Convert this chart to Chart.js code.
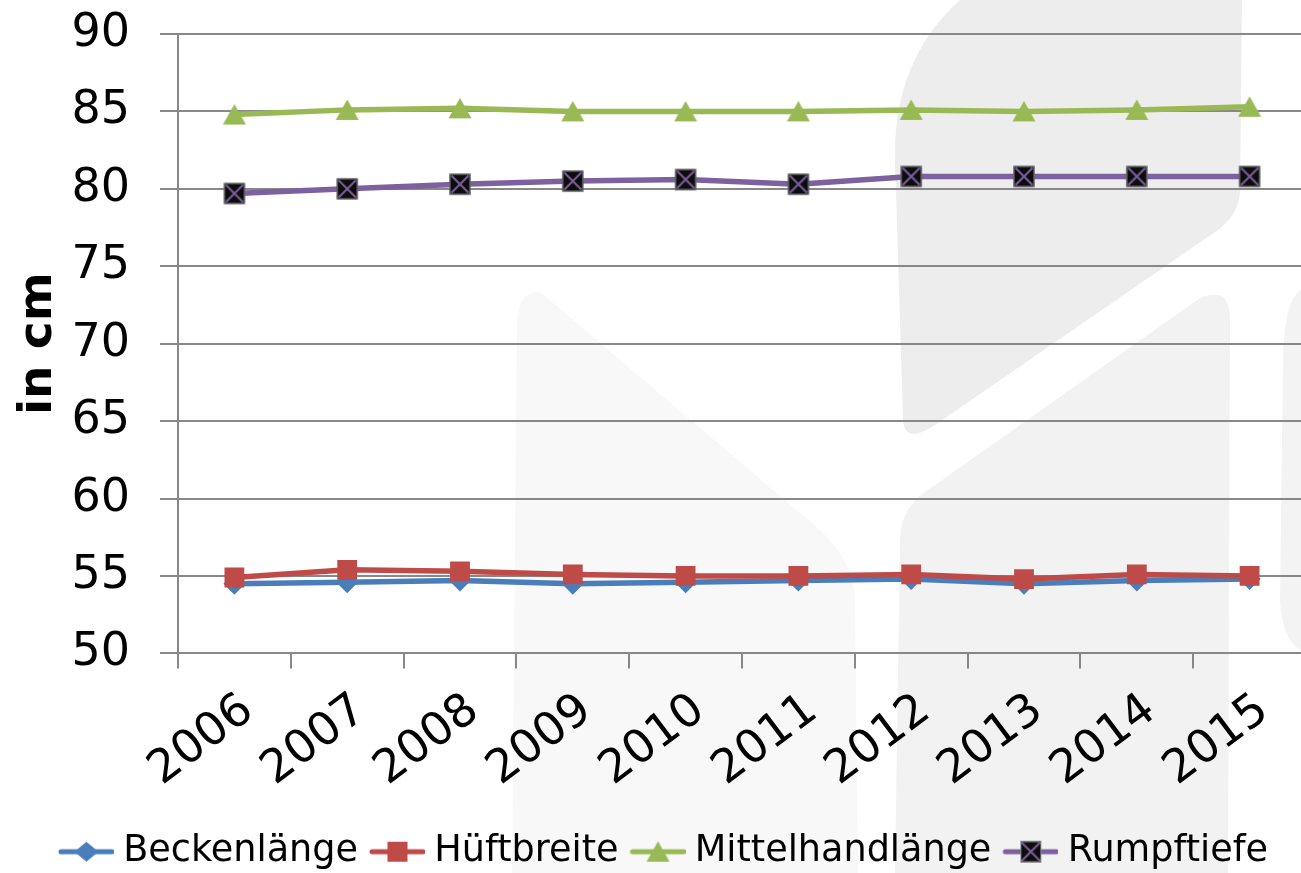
<!DOCTYPE html>
<html><head><meta charset="utf-8">
<script src="https://cdn.jsdelivr.net/npm/chart.js@4.4.1/dist/chart.umd.min.js"></script>
<style>
html,body{margin:0;padding:0;background:#fff;overflow:hidden;}
#wrap{position:relative;width:1320px;height:873px;}
</style>
</head><body>
<div id="wrap"><canvas id="c"></canvas></div>
<script>
// ---- data ----
const years = ['2006','2007','2008','2009','2010','2011','2012','2013','2014','2015'];
const beckenlaenge     = [54.5, 54.6, 54.7, 54.5, 54.6, 54.7, 54.8, 54.5, 54.7, 54.8];
const hueftbreite      = [54.9, 55.4, 55.3, 55.1, 55.0, 55.0, 55.1, 54.8, 55.1, 55.0];
const mittelhandlaenge = [84.8, 85.1, 85.2, 85.0, 85.0, 85.0, 85.1, 85.0, 85.1, 85.3];
const rumpftiefe       = [79.7, 80.0, 80.3, 80.5, 80.6, 80.3, 80.8, 80.8, 80.8, 80.8];
const seriesNames = ['Beckenlänge','Hüftbreite','Mittelhandlänge','Rumpftiefe'];
const yTitle = 'in cm';

const FONT = "'DejaVu Sans', Verdana, sans-serif";
const COLORS = ['#4A7EBB','#BE4B48','#98B954','#7D60A0'];

function drawMarker(ctx, kind, cx, cy, color){
  ctx.save();
  if (kind === 'diamond'){
    ctx.fillStyle = color; ctx.beginPath();
    ctx.moveTo(cx, cy-10); ctx.lineTo(cx+12, cy); ctx.lineTo(cx, cy+10); ctx.lineTo(cx-12, cy); ctx.closePath(); ctx.fill();
  } else if (kind === 'square'){
    ctx.fillStyle = color; ctx.fillRect(cx-10, cy-10, 20, 20);
  } else if (kind === 'triangle'){
    ctx.fillStyle = color; ctx.beginPath();
    ctx.moveTo(cx, cy-10.5); ctx.lineTo(cx+11.5, cy+10); ctx.lineTo(cx-11.5, cy+10); ctx.closePath(); ctx.fill();
  } else if (kind === 'xbox'){
    ctx.fillStyle = '#0d0d0d'; ctx.fillRect(cx-10.5, cy-10.5, 21, 21);
    ctx.strokeStyle = '#8a8a8a'; ctx.lineWidth = 1; ctx.strokeRect(cx-10, cy-10, 20, 20);
    ctx.strokeStyle = color; ctx.lineWidth = 2; ctx.beginPath();
    ctx.moveTo(cx-8.5, cy-8.5); ctx.lineTo(cx+8.5, cy+8.5); ctx.moveTo(cx+8.5, cy-8.5); ctx.lineTo(cx-8.5, cy+8.5); ctx.stroke();
  }
  ctx.restore();
}
function markerImage(kind, color){
  const c = document.createElement('canvas'); c.width = 24; c.height = 24;
  drawMarker(c.getContext('2d'), kind, 12, 12, color);
  return c;
}
// legend symbol: transparent left margin so that the visible line+marker sits right before the text
function legendImage(kind, color){
  const c = document.createElement('canvas'); c.width = 73; c.height = 30;
  const g = c.getContext('2d');
  g.strokeStyle = color; g.lineWidth = 5; g.lineCap = 'round';
  g.beginPath(); g.moveTo(20, 15); g.lineTo(71, 15); g.stroke();
  drawMarker(g, kind, 45.5, 15, color);
  return c;
}
const kinds = ['diamond','square','triangle','xbox'];
const legendImgs = kinds.map((k,i)=>legendImage(k, COLORS[i]));
const triImg = markerImage('triangle', COLORS[2]);
const xboxImg = markerImage('xbox', COLORS[3]);

// faint watermark shapes in the background
const bgPlugin = {
  id:'bg',
  beforeDraw(chart){
    const ctx = chart.ctx; ctx.save();
    ctx.fillStyle = '#fff'; ctx.fillRect(0,0,chart.width,chart.height);
    ctx.fillStyle = '#f8f8f8'; ctx.beginPath();
    ctx.moveTo(540,292); ctx.quadraticCurveTo(520,290,517,320);
    ctx.lineTo(512,873); ctx.lineTo(858,873); ctx.lineTo(855,600);
    ctx.quadraticCurveTo(853,560,820,530); ctx.closePath(); ctx.fill();
    ctx.fillStyle = '#f2f2f2'; ctx.beginPath();
    ctx.moveTo(900,540); ctx.quadraticCurveTo(900,505,935,485);
    ctx.lineTo(1200,298); ctx.quadraticCurveTo(1230,285,1230,320);
    ctx.lineTo(1228,873); ctx.lineTo(895,873); ctx.closePath(); ctx.fill();
    ctx.fillStyle = '#ededed'; ctx.beginPath();
    ctx.moveTo(960,0); ctx.lineTo(1242,0); ctx.lineTo(1240,190);
    ctx.quadraticCurveTo(1240,215,1215,232); ctx.lineTo(935,425);
    ctx.quadraticCurveTo(905,445,903,420); ctx.lineTo(895,160);
    ctx.quadraticCurveTo(893,60,960,0); ctx.closePath(); ctx.fill();
    ctx.fillStyle = '#f3f3f3'; ctx.beginPath();
    ctx.moveTo(1301,290); ctx.quadraticCurveTo(1284,300,1283,360);
    ctx.lineTo(1280,600); ctx.quadraticCurveTo(1282,640,1301,650); ctx.closePath(); ctx.fill();
    ctx.restore();
  }
};

const series = [beckenlaenge, hueftbreite, mittelhandlaenge, rumpftiefe];
const styles = [
  {pointStyle:'rectRot', pointRadius:11},
  {pointStyle:'rect', pointRadius:14},
  {pointStyle:triImg, pointRadius:11},
  {pointStyle:xboxImg, pointRadius:11}
];
const datasets = series.map((d,i)=>({
  label: seriesNames[i], data: d,
  borderColor: COLORS[i], backgroundColor: COLORS[i],
  pointBackgroundColor: COLORS[i], pointBorderColor: COLORS[i], pointBorderWidth: 0,
  borderWidth: 5.5, tension: 0, order: 4 - i,
  pointStyle: styles[i].pointStyle, pointRadius: styles[i].pointRadius, pointHoverRadius: styles[i].pointRadius
}));

new Chart(document.getElementById('c'), {
  type:'line',
  data:{labels: years, datasets},
  plugins:[bgPlugin],
  options:{
    responsive:true, maintainAspectRatio:false, animation:false,
    layout:{padding:{top:0, left:0, right:2, bottom:-7}},
    plugins:{
      tooltip:{enabled:false},
      legend:{
        position:'bottom',
        labels:{
          usePointStyle:true, pointStyleWidth:55, padding:3, color:'#000',
          font:{size:36.6, family:FONT},
          generateLabels(chart){
            return chart.data.datasets.map((ds,i)=>({
              text: ds.label, pointStyle: legendImgs[i], fillStyle: COLORS[i],
              strokeStyle: COLORS[i], lineWidth:0, hidden:false, datasetIndex:i, fontColor:'#000'
            }));
          }
        }
      }
    },
    scales:{
      x:{
        type:'category', offset:true,
        grid:{offset:true, drawOnChartArea:false, drawTicks:true, tickLength:15, color:'#888', lineWidth:2},
        border:{display:true, color:'#888', width:2},
        ticks:{minRotation:37, maxRotation:37, color:'#000', padding:15, labelOffset:14, font:{size:46, family:FONT}},
        afterFit(s){ s.height = 177; }
      },
      y:{
        min:50, max:90,
        ticks:{stepSize:5, color:'#000', padding:30, font:{size:46, family:FONT}},
        grid:{color:'#888', lineWidth:2, tickLength:18, drawTicks:true},
        border:{display:true, color:'#888', width:2},
        title:{display:true, text:yTitle, color:'#000', padding:{top:11,bottom:0}, font:{size:47, weight:'bold', family:FONT}},
        afterFit(s){ s.width = 178; s.paddingTop = 34; s.paddingBottom = 0; }
      }
    }
  }
});
</script>
</body></html>
